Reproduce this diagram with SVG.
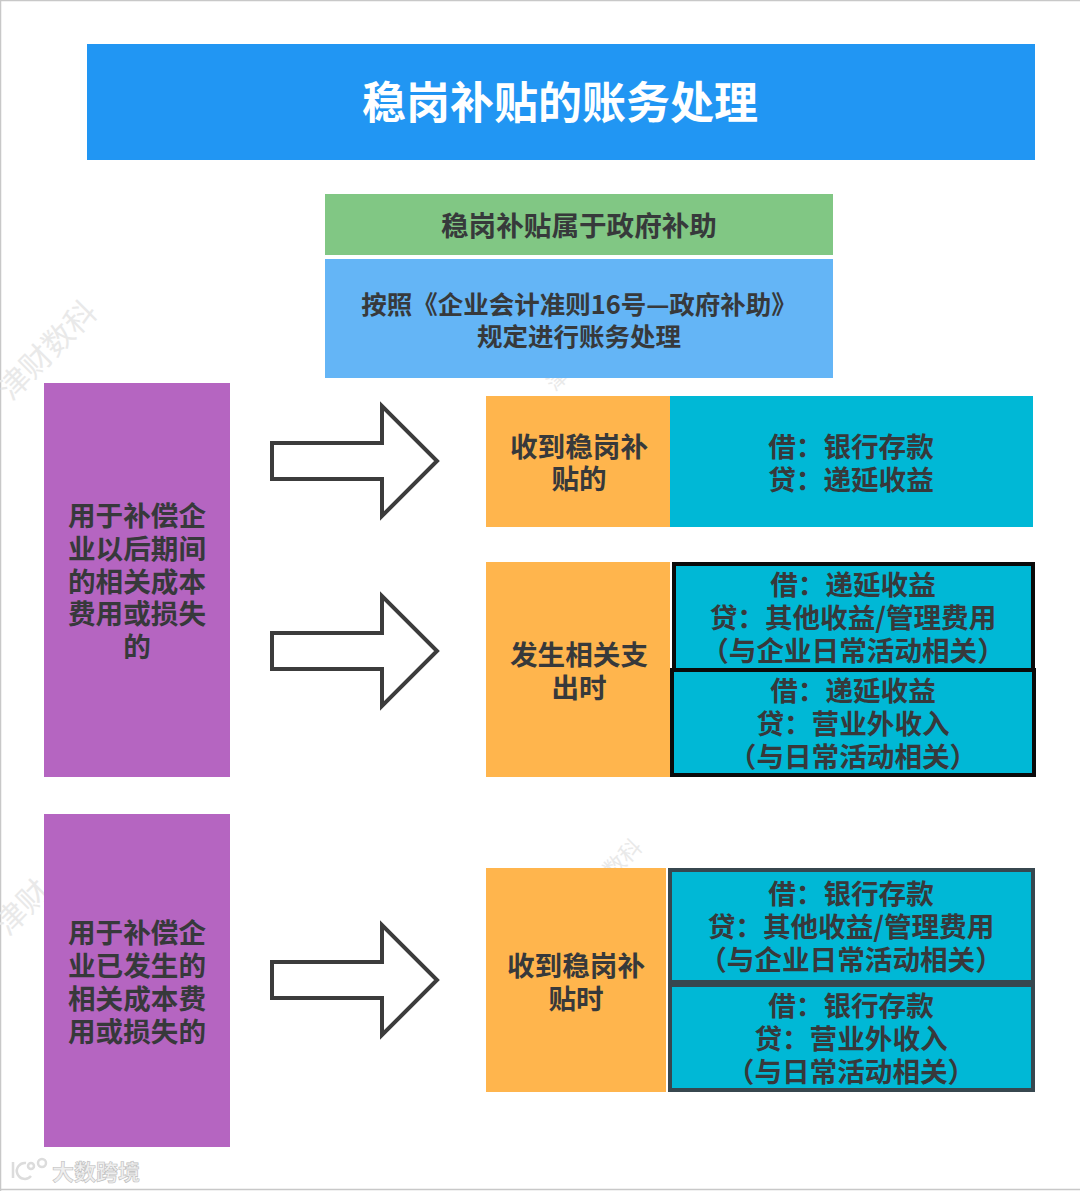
<svg xmlns="http://www.w3.org/2000/svg" width="1080" height="1191" viewBox="0 0 1080 1191">
<style>
text{font-family:"Noto Sans CJK SC","Noto Sans",sans-serif;font-weight:700;text-anchor:middle;font-size:27.6px;fill:#37393b}
.wm{fill:#e9e9e9;font-size:31px;font-weight:400}
.arrow{fill:#fff;stroke:#3c3c3c;stroke-width:4;stroke-linejoin:miter}
.purple{fill:#b565c1}.orange{fill:#ffb54d}.teal{fill:#00b8d6}
.bk{stroke:#0a0a0a;stroke-width:4}.gr{stroke:#37474f;stroke-width:4}
.logo{fill:none;stroke:#dcdcdc;stroke-width:2.500}
</style>
<defs><path id="arr" class="arrow" d="M272 0V-18H382V-55L437 0L382 55V18H272Z"/></defs>
<rect width="1080" height="1191" fill="#fff"/>
<path d="M0.5 1191V0.5H1080M0 1189.500H1080" fill="none" stroke="#c8c8c8" stroke-width="1.500"/>
<g id="watermarks">
<text class="wm" transform="translate(55,358) rotate(-45)">津财数科</text>
<text class="wm" transform="translate(30,915) rotate(-45)">津财</text>
<text class="wm" transform="translate(628,864) rotate(-45)" style="font-size:22px">数科</text>
<text class="wm" transform="translate(562,385) rotate(-45)" style="font-size:20px">津</text>
<g id="logo"><path class="logo" d="M13 1162V1178M26 1163A8 8 0 1 0 31 1176"/><circle class="logo" cx="31" cy="1166" r="3"/><circle class="logo" cx="42" cy="1163" r="4"/>
<text x="96" y="1180" style="font-size:22px;fill:#efefef;stroke:#bdbdbd;stroke-width:.6">大数跨境</text></g>
</g>
<g id="title"><rect x="87" y="44" width="948" height="116" fill="#2196f3"/><text x="560" y="119" style="font-size:44px;fill:#fff">稳岗补贴的账务处理</text></g>
<g id="subsidy"><rect x="325" y="194" width="508" height="61" fill="#81c784"/><text x="579" y="236">稳岗补贴属于政府补助</text></g>
<g id="rule"><rect x="325" y="259" width="508" height="119" fill="#64b5f6"/><text style="font-size:25.500px"><tspan x="579" y="314">按照《企业会计准则16号—政府补助》</tspan><tspan x="579" y="346">规定进行账务处理</tspan></text></g>
<g id="left1"><rect class="purple" x="44" y="383" width="186" height="394"/>
<text><tspan x="137" y="526">用于补偿企</tspan><tspan x="137" y="559">业以后期间</tspan><tspan x="137" y="592">的相关成本</tspan><tspan x="137" y="624">费用或损失</tspan><tspan x="137" y="657">的</tspan></text></g>
<g id="left2"><rect class="purple" x="44" y="814" width="186" height="333"/>
<text><tspan x="137" y="943">用于补偿企</tspan><tspan x="137" y="976">业已发生的</tspan><tspan x="137" y="1009">相关成本费</tspan><tspan x="137" y="1042">用或损失的</tspan></text></g>
<g id="connectors"><use href="#arr" y="461"/><use href="#arr" y="651"/><use href="#arr" y="980"/></g>
<g id="recv1"><rect class="orange" x="486" y="396" width="184" height="131"/><text><tspan x="579" y="457">收到稳岗补</tspan><tspan x="579" y="489">贴的</tspan></text></g>
<g id="recv1-entry"><rect class="teal" x="670" y="396" width="363" height="131"/><text><tspan x="851" y="457">借：银行存款</tspan><tspan x="851" y="490">贷：递延收益</tspan></text></g>
<g id="spend"><rect class="orange" x="486" y="562" width="184" height="215"/><text><tspan x="579" y="665">发生相关支</tspan><tspan x="579" y="698">出时</tspan></text></g>
<g id="spend-a"><rect class="teal bk" x="674" y="564" width="359" height="106"/><text><tspan x="853" y="595">借：递延收益</tspan><tspan x="853" y="628">贷：其他收益/管理费用</tspan><tspan x="853" y="661">（与企业日常活动相关）</tspan></text></g>
<g id="spend-b"><rect class="teal bk" x="672" y="670" width="362" height="105"/><text><tspan x="853" y="701">借：递延收益</tspan><tspan x="853" y="734">贷：营业外收入</tspan><tspan x="853" y="767">（与日常活动相关）</tspan></text></g>
<g id="recv2"><rect class="orange" x="486" y="868" width="180" height="224"/><text><tspan x="576" y="976">收到稳岗补</tspan><tspan x="576" y="1009">贴时</tspan></text></g>
<g id="recv2-a"><rect class="teal gr" x="670" y="870" width="363" height="112"/><text><tspan x="851" y="904">借：银行存款</tspan><tspan x="851" y="937">贷：其他收益/管理费用</tspan><tspan x="851" y="970">（与企业日常活动相关）</tspan></text></g>
<g id="recv2-b"><rect class="teal gr" x="670" y="985" width="363" height="105"/><text><tspan x="851" y="1016">借：银行存款</tspan><tspan x="851" y="1049">贷：营业外收入</tspan><tspan x="851" y="1082">（与日常活动相关）</tspan></text></g>
</svg>
